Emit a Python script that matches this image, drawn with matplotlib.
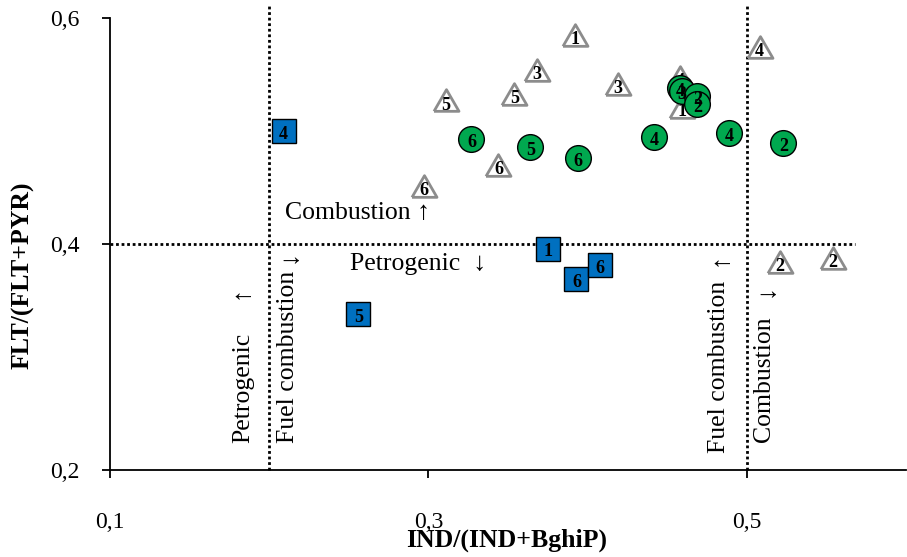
import matplotlib.pyplot as plt
from matplotlib.ticker import FuncFormatter

plt.rcParams['font.family'] = ['Liberation Serif', 'DejaVu Serif']

# triangles (white, grey edge)
tri_x = [0.392, 0.368, 0.311, 0.354, 0.419, 0.458, 0.459, 0.508, 0.297, 0.344, 0.521, 0.554]
tri_y = [0.585, 0.554, 0.527, 0.533, 0.542, 0.548, 0.521, 0.574, 0.451, 0.470, 0.384, 0.388]
tri_lab = ["1", "3", "5", "5", "3", "4", "1", "4", "6", "6", "2", "2"]

# circles (green)
cir_x = [0.327, 0.364, 0.394, 0.442, 0.489, 0.523, 0.458, 0.459, 0.469, 0.469]
cir_y = [0.493, 0.486, 0.476, 0.495, 0.498, 0.489, 0.538, 0.535, 0.531, 0.524]
cir_lab = ["6", "5", "6", "4", "4", "2", "4", "3", "2", "2"]

# squares (blue)
sq_x = [0.209, 0.375, 0.393, 0.408, 0.256]
sq_y = [0.500, 0.396, 0.369, 0.381, 0.338]
sq_lab = ["4", "1", "6", "6", "5"]

fig = plt.figure(figsize=(9.07, 5.57), dpi=100)
ax = fig.add_axes([110 / 907, 1 - 470 / 557, 796 / 907, 452 / 557])
ax.set_xlim(0.1, 0.6)
ax.set_ylim(0.2, 0.6)

dot = (0, (1, 1))
ax.plot([0.2, 0.2], [0.2, 0.611], color="black", lw=2, ls=dot, clip_on=False, zorder=1)
ax.plot([0.5, 0.5], [0.2, 0.611], color="black", lw=2, ls=dot, clip_on=False, zorder=1)
ax.plot([0.1, 0.568], [0.4, 0.4], color="black", lw=2, ls=dot, zorder=1)

tri = [(-1, -0.866), (1, -0.866), (0, 0.866), (-1, -0.866)]
for x, y, t in zip(tri_x, tri_y, tri_lab):
    ax.plot(x, y, marker=tri, ms=18, mfc="white", mec="#8c8c8c", mew=2, zorder=3)
    ax.text(x, y - 0.004, t, ha="center", va="center", fontsize=13, fontweight="bold", zorder=4)

for x, y, t in zip(cir_x, cir_y, cir_lab):
    ax.plot(x, y, marker="o", ms=18.5, mfc="#00a84f", mec="black", mew=1, zorder=5)
    ax.text(x, y - 0.003, t, ha="center", va="center", fontsize=13, fontweight="bold", zorder=6)

for x, y, t in zip(sq_x, sq_y, sq_lab):
    ax.plot(x, y, marker="s", ms=17, mfc="#0070c0", mec="black", mew=1, zorder=5)
    ax.text(x, y - 0.003, t, ha="center", va="center", fontsize=13, fontweight="bold", zorder=6)

fs = 18.5
ax.text(0.21, 0.427, "Combustion \u2191", fontsize=fs, ha="left", va="center")
ax.text(0.251, 0.382, "Petrogenic  \u2193", fontsize=fs, ha="left", va="center")
ax.text(0.1835, 0.224, "Petrogenic", fontsize=fs, rotation=90, ha="center", va="bottom")
ax.text(0.1825, 0.357, "\u2191", fontsize=fs, rotation=90, ha="center", va="center")
ax.text(0.2115, 0.224, "Fuel combustion", fontsize=fs, rotation=90, ha="center", va="bottom")
ax.text(0.2125, 0.389, "\u2193", fontsize=fs, rotation=90, ha="center", va="center")
ax.text(0.4824, 0.215, "Fuel combustion", fontsize=fs, rotation=90, ha="center", va="bottom")
ax.text(0.4835, 0.386, "\u2191", fontsize=fs, rotation=90, ha="center", va="center")
ax.text(0.511, 0.225, "Combustion", fontsize=fs, rotation=90, ha="center", va="bottom")
ax.text(0.5125, 0.359, "\u2193", fontsize=fs, rotation=90, ha="center", va="center")

ax.spines["top"].set_visible(False)
ax.spines["right"].set_visible(False)
ax.spines["left"].set_linewidth(1.3)
ax.spines["bottom"].set_linewidth(1.3)

fmt = FuncFormatter(lambda v, p: f"{v:.1f}".replace(".", ","))
ax.set_xticks([0.1, 0.3, 0.5])
ax.set_yticks([0.2, 0.4, 0.6])
ax.xaxis.set_major_formatter(fmt)
ax.yaxis.set_major_formatter(fmt)
ax.tick_params(axis="x", direction="out", length=6, width=1.3, labelsize=17, pad=24)
ax.tick_params(axis="y", direction="out", length=6, width=1.3, labelsize=17, pad=16)

ax.set_xlabel("IND/(IND+BghiP)", fontsize=18.5, fontweight="bold")
ax.set_ylabel("FLT/(FLT+PYR)", fontsize=18.5, fontweight="bold")
ax.xaxis.set_label_coords((507 - 110) / 796, -0.13)
ax.yaxis.set_label_coords(-0.095, 0.43)

fig.savefig("out.png", dpi=100)
